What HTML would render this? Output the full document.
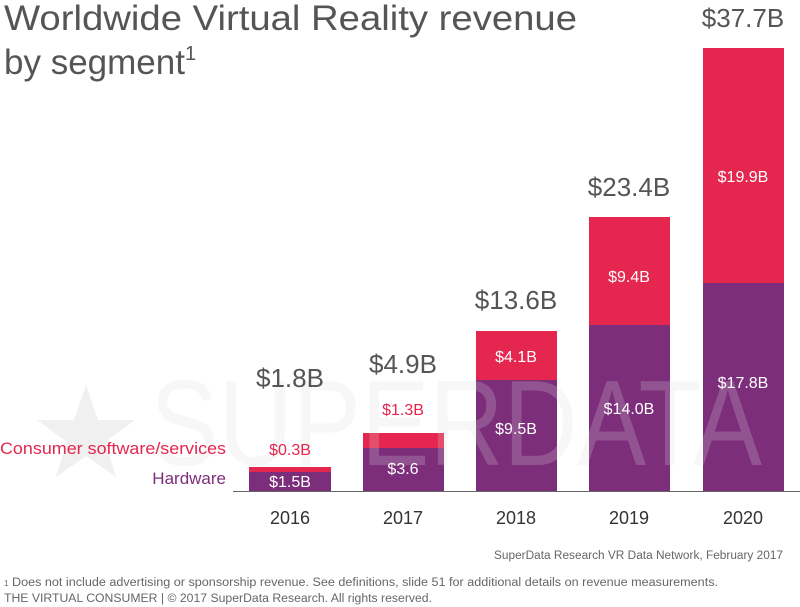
<!DOCTYPE html>
<html><head><style>
body{margin:0;background:#fff;}
svg{display:block;font-family:"Liberation Sans",sans-serif;}
</style></head><body>
<svg width="800" height="607" viewBox="0 0 800 607">
<text x="4" y="30" font-size="35" fill="#555" textLength="573" lengthAdjust="spacingAndGlyphs">Worldwide Virtual Reality revenue</text>
<text x="4" y="74" font-size="35" fill="#555">by segment<tspan font-size="20" dy="-14">1</tspan></text>
<g fill="#e5264e">
<rect x="249" y="467" width="82" height="6"/>
<rect x="363" y="433" width="81" height="16"/>
<rect x="476" y="331" width="81" height="50"/>
<rect x="589" y="217" width="81" height="109"/>
<rect x="703" y="48" width="81" height="236"/>
</g>
<g fill="#7d2e7b">
<rect x="249" y="472" width="82" height="19"/>
<rect x="363" y="448" width="81" height="43"/>
<rect x="476" y="380" width="81" height="111"/>
<rect x="589" y="325" width="81" height="166"/>
<rect x="703" y="283" width="81" height="208"/>
</g>
<line x1="233" y1="491.5" x2="800" y2="491.5" stroke="#666" stroke-width="1"/>
<g opacity="0.22">
<polygon points="86,385 98,420 135,420 105,442 116,477 86,456 56,477 67,442 37,420 74,420" fill="#bbb"/>
<text x="150" y="465" font-size="122" fill="#ddd" textLength="612" lengthAdjust="spacingAndGlyphs">SUPERDATA</text>
</g>
<g font-size="26" fill="#555" text-anchor="middle">
<text x="290" y="387">$1.8B</text>
<text x="403" y="373">$4.9B</text>
<text x="516" y="309">$13.6B</text>
<text x="629" y="196">$23.4B</text>
<text x="743" y="27">$37.7B</text>
</g>
<g font-size="16" text-anchor="middle">
<text x="290" y="455" fill="#e5264e">$0.3B</text>
<text x="403" y="415" fill="#e5264e">$1.3B</text>
<text x="516" y="362" fill="#fff">$4.1B</text>
<text x="629" y="282" fill="#fff">$9.4B</text>
<text x="743" y="182" fill="#fff">$19.9B</text>
<text x="290" y="487" fill="#fff">$1.5B</text>
<text x="403" y="474" fill="#fff">$3.6</text>
<text x="516" y="434" fill="#fff">$9.5B</text>
<text x="629" y="414" fill="#fff">$14.0B</text>
<text x="743" y="388" fill="#fff">$17.8B</text>
</g>
<text x="226" y="454" font-size="17" fill="#e5264e" text-anchor="end" textLength="226" lengthAdjust="spacingAndGlyphs">Consumer software/services</text>
<text x="226" y="484" font-size="17" fill="#7d2e7b" text-anchor="end">Hardware</text>
<g font-size="18" fill="#333" text-anchor="middle">
<text x="290" y="524">2016</text>
<text x="403" y="524">2017</text>
<text x="516" y="524">2018</text>
<text x="629" y="524">2019</text>
<text x="743" y="524">2020</text>
</g>
<text x="494" y="559" font-size="11.5" fill="#666" textLength="289" lengthAdjust="spacingAndGlyphs">SuperData Research VR Data Network, February 2017</text>
<text x="4" y="586" font-size="8" fill="#666">1</text>
<text x="12" y="586" font-size="11.5" fill="#666" textLength="706" lengthAdjust="spacingAndGlyphs">Does not include advertising or sponsorship revenue. See definitions, slide 51 for additional details on revenue measurements.</text>
<text x="4" y="602" font-size="11.5" fill="#666" textLength="428" lengthAdjust="spacingAndGlyphs">THE VIRTUAL CONSUMER  |  © 2017 SuperData Research. All rights reserved.</text>
</svg>
</body></html>
